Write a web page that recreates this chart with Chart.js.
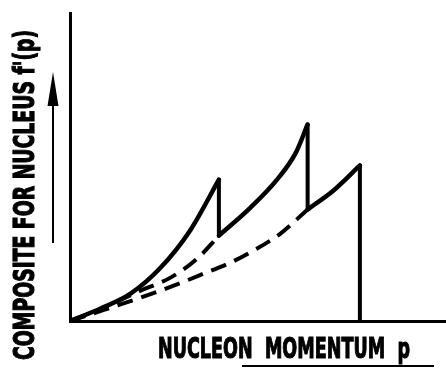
<!DOCTYPE html>
<html>
<head>
<meta charset="utf-8">
<script src="https://cdn.jsdelivr.net/npm/chart.js"></script>
<style>
  html, body { margin: 0; padding: 0; background: #fff; }
  #wrap { width: 446px; height: 368px; }
</style>
</head>
<body>
<div id="wrap"><canvas id="chart" width="446" height="368"></canvas></div>
<script>
// composite curve, piece by piece (p, f'(p))
const seg1P = [0, 0.8, 1.6, 2.4, 3.2, 3.96];
const seg1F = [0, 0.4, 0.88, 1.72, 2.95, 4.59];
const seg2P = [3.96, 4.8, 5.5, 6.0, 6.32];
const seg2F = [2.77, 3.68, 4.58, 5.45, 6.38];
const seg3P = [6.32, 7.0, 7.71];
const seg3F = [3.62, 4.23, 5.05];
// vertical drops at the edges: [p, top, bottom]
const drops = [[3.96, 4.59, 2.77], [6.32, 6.38, 3.62], [7.71, 5.05, 0]];
// dashed continuations under the envelope
const dash1P = [0, 0.8, 1.86, 2.66, 3.38, 3.96];
const dash1F = [0, 0.38, 0.98, 1.4, 2.02, 2.77];
const dash2P = [0, 0.9, 1.86, 2.74, 3.54, 4.26, 4.87, 5.59, 6.32];
const dash2F = [0, 0.36, 0.75, 1.14, 1.53, 1.89, 2.28, 2.83, 3.62];

const yTitle = "COMPOSITE FOR NUCLEUS f'(p)";
const xTitle = 'NUCLEON  MOMENTUM  p';

const toPts = (xs, ys) => xs.map((x, i) => ({ x: x, y: ys[i] }));

const curve = (xs, ys) => ({
  data: toPts(xs, ys),
  borderColor: '#000',
  borderWidth: 4.5,
  pointRadius: 0,
  cubicInterpolationMode: 'monotone',
  borderCapStyle: 'round',
  borderJoinStyle: 'round'
});

const datasets = [curve(seg1P, seg1F), curve(seg2P, seg2F), curve(seg3P, seg3F)];
drops.forEach(d => {
  datasets.push({
    data: [{ x: d[0], y: d[1] }, { x: d[0], y: d[2] }],
    borderColor: '#000', borderWidth: 4, pointRadius: 0, borderCapStyle: 'round'
  });
});
[[dash1P, dash1F], [dash2P, dash2F]].forEach(([xs, ys]) => {
  const ds = curve(xs, ys);
  ds.borderDash = [16, 9];
  ds.borderWidth = 4;
  ds.borderCapStyle = 'butt';
  datasets.push(ds);
});

function squeezed(ctx, text, x, y, targetW, font) {
  ctx.font = font;
  const w = ctx.measureText(text).width;
  ctx.save();
  ctx.translate(x, y);
  ctx.scale(targetW / w, 1);
  ctx.fillText(text, 0, 0);
  ctx.strokeText(text, 0, 0);
  ctx.restore();
}

const labelsPlugin = {
  id: 'labels',
  afterDraw(chart) {
    const ctx = chart.ctx;
    ctx.save();
    ctx.fillStyle = '#000';
    ctx.strokeStyle = '#000';
    ctx.textBaseline = 'alphabetic';
    ctx.textAlign = 'left';
    ctx.lineWidth = 1.2;

    // y title, reading upwards
    ctx.save();
    ctx.translate(34, 360);
    ctx.rotate(-Math.PI / 2);
    squeezed(ctx, yTitle, 0, 0, 330, 'bold 28px "DejaVu Sans"');
    ctx.restore();

    // x title
    squeezed(ctx, xTitle, 158, 358, 252, 'bold 29px "DejaVu Sans"');

    // arrow next to the y title
    ctx.lineWidth = 2;
    ctx.beginPath();
    ctx.moveTo(53, 243);
    ctx.lineTo(53, 100);
    ctx.stroke();
    ctx.beginPath();
    ctx.moveTo(53, 72);
    ctx.lineTo(58.5, 106);
    ctx.lineTo(47.5, 106);
    ctx.closePath();
    ctx.fill();

    // line under the x title
    ctx.beginPath();
    ctx.moveTo(242, 366);
    ctx.lineTo(434, 366);
    ctx.stroke();
    ctx.restore();
  }
};

new Chart(document.getElementById('chart'), {
  type: 'line',
  data: { datasets: datasets },
  options: {
    responsive: false,
    animation: false,
    layout: { padding: { left: 70, top: 13, right: 0, bottom: 47 } },
    plugins: { legend: { display: false }, tooltip: { enabled: false } },
    scales: {
      x: {
        type: 'linear', min: 0, max: 10,
        grid: { display: false, drawTicks: false },
        ticks: { display: false },
        border: { display: true, color: '#000', width: 3 }
      },
      y: {
        type: 'linear', min: 0, max: 10,
        grid: { display: false, drawTicks: false },
        ticks: { display: false },
        border: { display: true, color: '#000', width: 3 }
      }
    }
  },
  plugins: [labelsPlugin]
});
</script>
</body>
</html>
